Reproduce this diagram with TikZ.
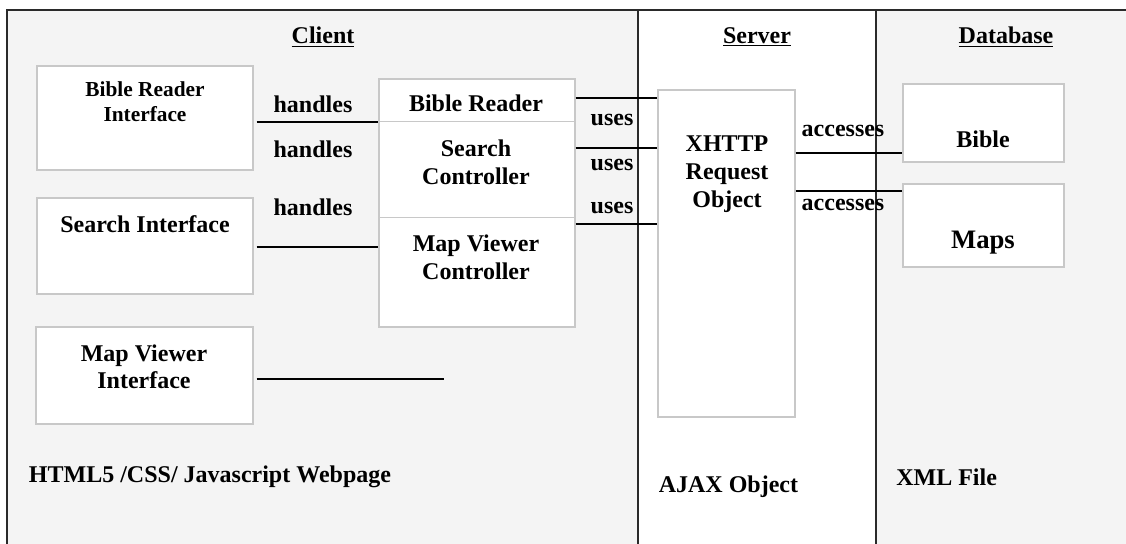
\documentclass[tikz,border=0pt]{standalone}
\usepackage{fontspec}
\setmainfont{Liberation Serif}
\usetikzlibrary{calc}
\definecolor{panelgray}{HTML}{F4F4F4}
\definecolor{boxgray}{HTML}{C8C8C8}
\definecolor{framegray}{HTML}{2A2A2A}
\tikzset{
  box/.style={draw=boxgray, fill=white, line width=0.9pt, inner sep=0pt},
  lbl/.style={font=\fontsize{18}{21}\selectfont\bfseries, inner sep=0pt, align=center},
  conn/.style={draw=black, line width=1.5pt},
  frame/.style={draw=framegray, line width=1.5pt}
}
\begin{document}
\begin{tikzpicture}[x=0.75pt, y=-0.75pt]
\useasboundingbox (0,0) rectangle (1126,543);
% panels
\fill[panelgray] (7,10) rectangle (638,560);
\fill[white] (638,10) rectangle (876,560);
\fill[panelgray] (876,10) rectangle (1130,560);
\draw[frame] (7,560) -- (7,10) -- (1130,10);
\draw[frame] (638,10) -- (638,560);
\draw[frame] (876,10) -- (876,560);

% titles
\node[lbl] (tclient) at (323,37) {\underline{Client}};
\node[lbl] (tserver) at (757,37) {\underline{Server}};
\node[lbl] (tdb) at (1006,37) {\underline{Database}};

% client interface boxes
\node[box, minimum width=162pt, minimum height=78pt] (bri) at (145,118) {};
\node[box, minimum width=162pt, minimum height=72pt] (si) at (145,246) {};
\node[box, minimum width=162.75pt, minimum height=72.75pt] (mvi) at (144.5,375.5) {};
\node[lbl, font=\fontsize{16}{19}\selectfont\bfseries] (tbri) at (145,102) {Bible Reader\\Interface};
\node[lbl] (tsi) at (145,224) {Search Interface};
\node[lbl, font=\fontsize{18}{20}\selectfont\bfseries] (tmvi) at (144,367) {Map Viewer\\Interface};

% controllers
\node[box, minimum width=147pt, minimum height=31.725pt] (brc) at (477,100.15) {};
\node[box, minimum width=147pt, minimum height=72pt] (scc) at (477,169.3) {};
\node[box, minimum width=147pt, minimum height=82.275pt] (mvc) at (477,272.15) {};
\node[lbl] (tbrc) at (476,103) {Bible Reader};
\node[lbl] (tscc) at (476,162) {Search\\Controller};
\node[lbl] (tmvc) at (476,257) {Map Viewer\\Controller};

% server
\node[box, minimum width=102.75pt, minimum height=245.25pt] (xhr) at (726.5,253.5) {};
\node[lbl] (txhr) at (727,174) {XHTTP\\Request\\Object};

% database
\node[box, minimum width=120.75pt, minimum height=58.5pt] (bib) at (983.5,123) {};
\node[box, minimum width=120.75pt, minimum height=62.25pt] (maps) at (983.5,225.5) {};
\node[lbl] (tbib) at (983,139) {Bible};
\node[lbl, font=\fontsize{20}{24}\selectfont\bfseries] (tmaps) at (983,243) {Maps};

% handles connectors
\coordinate (h1a) at ($(bri.east)+(3,4)$);
\draw[conn] (h1a) -- (h1a -| brc.west);
\coordinate (h2a) at ($(si.east)+(3,1)$);
\draw[conn] (h2a) -- (h2a -| mvc.west);
\coordinate (h3a) at ($(mvi.east)+(3,3.5)$);
\coordinate (h3b) at ($(h3a)+(187,0)$);
\draw[conn] (h3a) -- (h3b);
\node[lbl] (lh1) at (313,104) {handles};
\node[lbl] (lh2) at (313,149) {handles};
\node[lbl] (lh3) at (313,207) {handles};

% uses connectors
\coordinate (u1) at ($(brc.east)+(0,-2.5)$);
\draw[conn] (u1) -- (u1 -| xhr.west);
\coordinate (u2) at ($(scc.north east)+(0,27.4)$);
\draw[conn] (u2) -- (u2 -| xhr.west);
\coordinate (u3) at ($(scc.south east)+(0,6.4)$);
\draw[conn] (u3) -- (u3 -| xhr.west);
\node[lbl] (lu1) at (612,120) {uses};
\node[lbl] (lu2) at (612,165) {uses};
\node[lbl] (lu3) at (612,208) {uses};

% accesses connectors
\coordinate (a1) at ($(bib.west)+(0,30)$);
\draw[conn] (a1 -| xhr.east) -- (a1);
\coordinate (a2) at ($(maps.north west)+(0,8)$);
\draw[conn] (a2 -| xhr.east) -- (a2);
\node[lbl] (la1) at (843,131) {accesses};
\node[lbl] (la2) at (843,205) {accesses};

% footers
\node[lbl, anchor=west] (fclient) at (28.7,477) {HTML5 /CSS/ Javascript Webpage};
\node[lbl, anchor=west] (fserver) at (658.5,487) {AJAX Object};
\node[lbl, anchor=west] (fdb) at (896,477) {XML File};
\end{tikzpicture}
\end{document}
